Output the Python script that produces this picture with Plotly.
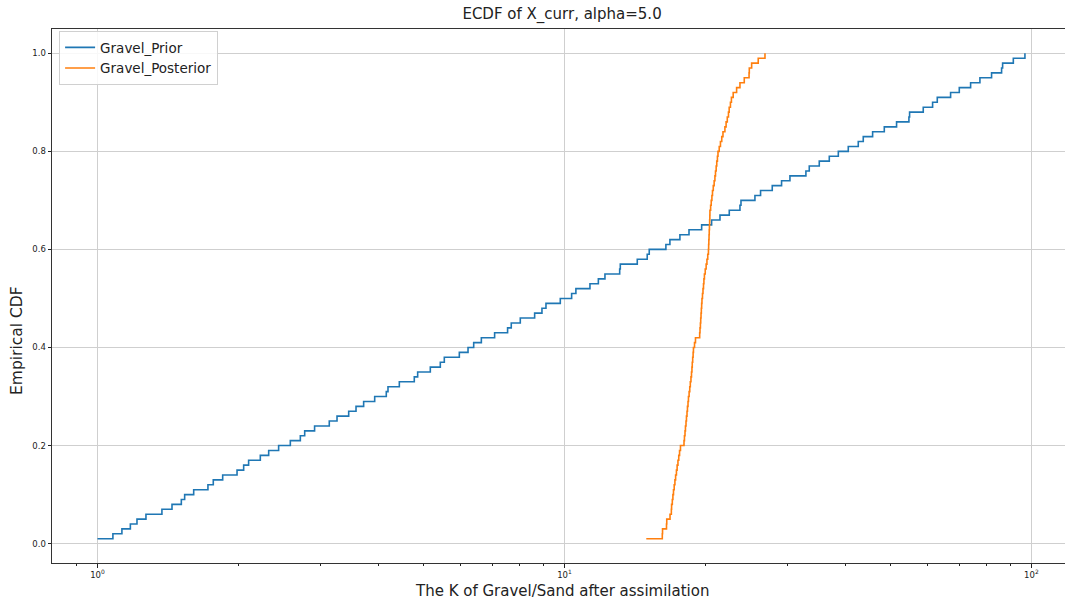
import numpy as np
import plotly.graph_objects as go

# ---- data ----
prior_values = [
    1.000, 1.079, 1.128, 1.176, 1.215, 1.270, 1.374, 1.444, 1.512, 1.537,
    1.607, 1.724, 1.770, 1.854, 1.990, 2.056, 2.107, 2.232, 2.326, 2.443,
    2.588, 2.719, 2.778, 2.917, 3.136, 3.258, 3.451, 3.578, 3.715, 3.923,
    4.154, 4.189, 4.430, 4.769, 4.849, 5.161, 5.422, 5.530, 5.955, 6.216,
    6.392, 6.638, 7.087, 7.555, 7.693, 8.043, 8.633, 8.950, 9.129, 9.797,
    10.36, 10.58, 11.34, 11.82, 12.21, 13.13, 13.17, 14.32, 15.04, 15.19,
    16.49, 16.82, 17.67, 18.48, 19.67, 20.66, 21.53, 22.54, 23.76, 23.88,
    25.58, 26.30, 27.86, 29.17, 30.40, 32.89, 33.44, 35.13, 36.91, 38.59,
    40.53, 42.58, 43.64, 45.70, 48.41, 51.43, 54.66, 54.84, 58.66, 61.43,
    62.86, 67.13, 70.07, 74.09, 77.57, 82.16, 86.32, 86.76, 91.46, 96.85,
]
posterior_values = [
    14.97, 16.20, 16.22, 16.54, 16.56, 16.83, 16.94, 16.96, 17.02, 17.07,
    17.12, 17.18, 17.24, 17.30, 17.37, 17.43, 17.50, 17.57, 17.64, 17.72,
    18.03, 18.07, 18.12, 18.16, 18.21, 18.25, 18.30, 18.34, 18.39, 18.43,
    18.49, 18.55, 18.60, 18.66, 18.71, 18.75, 18.78, 18.82, 18.86, 18.89,
    18.99, 19.08, 19.48, 19.51, 19.55, 19.58, 19.61, 19.64, 19.67, 19.70,
    19.75, 19.80, 19.85, 19.89, 19.94, 20.02, 20.11, 20.19, 20.27, 20.34,
    20.36, 20.38, 20.40, 20.42, 20.44, 20.46, 20.48, 20.49, 20.56, 20.62,
    20.69, 20.75, 20.83, 20.92, 21.00, 21.06, 21.13, 21.19, 21.26, 21.32,
    21.45, 21.58, 21.72, 21.85, 22.06, 22.19, 22.32, 22.45, 22.53, 22.67,
    22.78, 22.98, 23.37, 23.76, 24.27, 24.85, 24.88, 25.17, 26.00, 26.88,
]
series_names = ["Gravel_Prior", "Gravel_Posterior"]
series_colors = ["#1f77b4", "#ff7f0e"]

x_major_ticks = [1, 10, 100]
x_major_labels = ["10<sup>0</sup>", "10<sup>1</sup>", "10<sup>2</sup>"]
x_minor_ticks = [0.9, 2, 3, 4, 5, 6, 7, 8, 9, 20, 30, 40, 50, 60, 70, 80, 90]
y_ticks = [0.0, 0.2, 0.4, 0.6, 0.8, 1.0]
y_labels = ["0.0", "0.2", "0.4", "0.6", "0.8", "1.0"]

title_text = "ECDF of X_curr, alpha=5.0"
x_title = "The K of Gravel/Sand after assimilation"
y_title = "Empirical CDF"

FONT = "DejaVu Sans"

fig = go.Figure()
for name, vals, col in zip(series_names, [prior_values, posterior_values], series_colors):
    xs = np.sort(np.asarray(vals, dtype=float))
    ys = np.arange(1, len(xs) + 1) / len(xs)
    fig.add_trace(go.Scatter(
        x=xs, y=ys, mode="lines", name=name, legendgroup=name,
        line=dict(color=col, width=1.6, shape="hv"),
    ))

fig.update_layout(
    width=1065, height=600,
    margin=dict(l=52, r=0, t=29, b=37),
    paper_bgcolor="white", plot_bgcolor="white",
    font=dict(family=FONT, color="#222222"),
    title=dict(text=title_text, x=0.5035, xref="paper", xanchor="center",
               y=1 - 14 / 600, yref="container", yanchor="middle",
               font=dict(size=15, color="#222222", family=FONT)),
    showlegend=True,
    legend=dict(x=0.007, y=0.996, xanchor="left", yanchor="top",
                bgcolor="rgba(255,255,255,0.85)", bordercolor="#d0d0d0", borderwidth=1,
                font=dict(size=13.5, family=FONT, color="#222222"),
                tracegroupgap=0, itemwidth=30),
)

fig.update_xaxes(
    type="log", range=[-0.0974, 2.0719],
    tickmode="array", tickvals=x_major_ticks, ticktext=x_major_labels,
    ticks="outside", ticklen=3.5, tickcolor="#222222", tickwidth=1,
    tickfont=dict(size=8.5, family=FONT, color="#222222"),
    showgrid=True, gridcolor="#cfcfcf", gridwidth=1,
    showline=True, linecolor="#333333", linewidth=1, mirror=True,
    zeroline=False,
    minor=dict(tickmode="array", tickvals=x_minor_ticks, ticks="outside",
               ticklen=2, tickcolor="#222222", showgrid=False),
)
fig.update_yaxes(
    range=[-0.0395, 1.0495],
    tickmode="array", tickvals=y_ticks, ticktext=y_labels,
    ticks="outside", ticklen=3.5, tickcolor="#222222", tickwidth=1,
    tickfont=dict(size=8.5, family=FONT, color="#222222"),
    showgrid=True, gridcolor="#cfcfcf", gridwidth=1,
    showline=True, linecolor="#333333", linewidth=1, mirror=False,
    zeroline=False,
)

fig.add_annotation(text=x_title, xref="paper", yref="paper",
                   x=0.503, y=-0.0525, xanchor="center", yanchor="middle",
                   showarrow=False, font=dict(size=15, family=FONT, color="#222222"))
fig.add_annotation(text=y_title, xref="paper", yref="paper", textangle=-90,
                   x=-0.0346, y=0.4176, xanchor="center", yanchor="middle",
                   showarrow=False, font=dict(size=15.5, family=FONT, color="#222222"))

fig.write_html("out.html")
